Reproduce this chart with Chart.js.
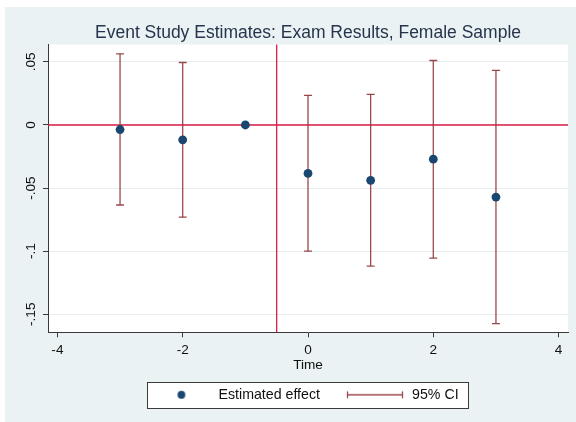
<!DOCTYPE html>
<html>
<head>
<meta charset="utf-8">
<script src="https://cdn.jsdelivr.net/npm/chart.js@4.4.1/dist/chart.umd.min.js"></script>
<style>
  html, body { margin: 0; padding: 0; background: #ffffff; }
  #frame { position: absolute; left: 5px; top: 7px; width: 571px; height: 415px; background: #eaf2f3; }
  canvas { display: block; }
</style>
</head>
<body>
<div id="frame"><canvas id="chart" width="571" height="415"></canvas></div>
<script>
// Event-study coefficients by period relative to treatment (t = -1 is the omitted reference period)
const periods   = [-3, -2, -1, 0, 1, 2, 3];
const estimates = [-0.0036, -0.0118, 0, -0.0384, -0.0439, -0.0271, -0.0571];
const ciLower   = [-0.0634, -0.0731, null, -0.1000, -0.1118, -0.1055, -0.1574];
const ciUpper   = [ 0.0564,  0.0495, null,  0.0235,  0.0243,  0.0511,  0.0432];

// Axis ticks and reference lines
const xTickValues = [-4, -2, 0, 2, 4];
const yTickValues = [-0.15, -0.1, -0.05, 0, 0.05];
const xRange = [-4.15, 4.15];
const yRange = [-0.1643, 0.0637];
const eventLineX = [-0.5];
const zeroLineY = [0];

const titleText = 'Event Study Estimates: Exam Results, Female Sample';
const xAxisTitle = 'Time';
const seriesNames = ['Estimated effect', '95% CI'];

const FONT = "'Liberation Sans', Arial, Helvetica, sans-serif";
const NAVY = '#1a476f';
const MAROON = 'rgba(144, 53, 59, 0.9)';
const REDLINE = '#dc1d48';
const TEXT = '#111111';

// Stata-style tick labels: .05, 0, -.05 ...
function stataNum(v) {
  if (Math.abs(v) < 1e-12) return '0';
  return String(+v.toFixed(3)).replace(/^(-?)0\./, '$1.');
}

// Confidence-interval segments, separated by gaps so each period is its own capped line
const ciPoints = [];
periods.forEach((t, i) => {
  if (ciLower[i] === null || ciUpper[i] === null) return;
  ciPoints.push({ x: t, y: ciLower[i] });
  ciPoints.push({ x: t, y: ciUpper[i] });
  ciPoints.push({ x: t, y: null });
});
const estimatePoints = periods.map((t, i) => ({ x: t, y: estimates[i] }));

// Legend keys
function makeKey(draw) {
  const c = document.createElement('canvas');
  c.width = 60; c.height = 12;
  draw(c.getContext('2d'));
  return c;
}
const dotKey = makeKey(g => {
  g.fillStyle = NAVY;
  g.beginPath(); g.arc(30, 6, 3.9, 0, Math.PI * 2); g.fill();
});
const capKey = makeKey(g => {
  g.strokeStyle = MAROON; g.lineWidth = 1.3;
  g.beginPath();
  g.moveTo(2.5, 6); g.lineTo(57.5, 6);
  g.moveTo(2.5, 2.5); g.lineTo(2.5, 9.5);
  g.moveTo(57.5, 2.5); g.lineTo(57.5, 9.5);
  g.stroke();
});
const legendKeys = [dotKey, capKey];

const decorations = {
  id: 'decorations',
  afterLayout(chart) {
    // nudge the legend row slightly left of the plot centre
    if (chart.legend) { chart.legend.left -= 3; chart.legend.right -= 3; }
  },
  beforeDraw(chart) {
    const { ctx, chartArea: a } = chart;
    ctx.save();
    ctx.fillStyle = '#ffffff';
    ctx.fillRect(a.left, a.top, a.right - a.left, a.bottom - a.top);
    const hb = chart.legend && chart.legend.legendHitBoxes;
    if (hb && hb.length) {
      const last = hb[hb.length - 1];
      const l = Math.round(hb[0].left - 4), r = Math.round(last.left + last.width + 9);
      const t = Math.round(hb[0].top - 6), b = Math.round(hb[0].top + hb[0].height + 6);
      ctx.fillRect(l, t, r - l, b - t);
      ctx.strokeStyle = '#3a3a3a';
      ctx.lineWidth = 1;
      ctx.strokeRect(l + 0.5, t + 0.5, r - l, b - t);
    }
    ctx.restore();
  },
  beforeDatasetsDraw(chart) {
    const { ctx, chartArea: a, scales } = chart;
    ctx.save();
    ctx.strokeStyle = REDLINE;
    ctx.lineWidth = 1.3;
    ctx.beginPath();
    zeroLineY.forEach(v => {
      const y = scales.y.getPixelForValue(v);
      ctx.moveTo(a.left, y); ctx.lineTo(a.right, y);
    });
    eventLineX.forEach(v => {
      const x = scales.x.getPixelForValue(v);
      ctx.moveTo(x, a.top); ctx.lineTo(x, a.bottom);
    });
    ctx.stroke();
    ctx.restore();
  }
};

new Chart(document.getElementById('chart'), {
  type: 'scatter',
  data: {
    datasets: [
      {
        label: seriesNames[0],
        data: estimatePoints,
        backgroundColor: NAVY,
        borderColor: NAVY,
        borderWidth: 0,
        pointRadius: 4.4,
        pointHoverRadius: 4.4
      },
      {
        label: seriesNames[1],
        data: ciPoints,
        showLine: true,
        spanGaps: false,
        borderColor: MAROON,
        borderWidth: 1.3,
        pointStyle: 'line',
        pointRadius: 4,
        pointHoverRadius: 4,
        pointBorderColor: MAROON,
        pointBorderWidth: 1.3
      }
    ]
  },
  options: {
    responsive: false,
    animation: false,
    devicePixelRatio: 1,
    layout: { padding: { top: 0, right: 8, bottom: 10.1, left: 0 } },
    plugins: {
      tooltip: { enabled: false },
      title: {
        display: true,
        text: titleText,
        fullSize: false,
        color: '#26344d',
        font: { family: FONT, size: 17.5, weight: 'normal' },
        padding: { top: 16, bottom: 0.6 }
      },
      legend: {
        position: 'bottom',
        fullSize: false,
        onClick: null,
        labels: {
          usePointStyle: true,
          pointStyleWidth: 60,
          padding: 25,
          color: TEXT,
          font: { family: FONT, size: 14.2 },
          generateLabels(chart) {
            return chart.data.datasets.map((ds, i) => ({
              text: ds.label,
              datasetIndex: i,
              pointStyle: legendKeys[i],
              fillStyle: 'transparent',
              strokeStyle: 'transparent',
              lineWidth: 0,
              fontColor: TEXT,
              hidden: false
            }));
          }
        }
      }
    },
    scales: {
      x: {
        type: 'linear',
        min: xRange[0],
        max: xRange[1],
        afterBuildTicks(s) { s.ticks = xTickValues.map(v => ({ value: v })); },
        afterFit(s) { s.height = 30.4; },
        border: { display: true, color: '#3a3a3a', width: 1 },
        grid: { drawOnChartArea: false, drawTicks: true, tickLength: 5, tickColor: '#3a3a3a', tickWidth: 1 },
        ticks: {
          padding: 5.2,
          color: TEXT,
          font: { family: FONT, size: 13.6 },
          maxRotation: 0,
          callback: v => stataNum(v)
        },
        title: {
          display: true,
          text: xAxisTitle,
          color: TEXT,
          font: { family: FONT, size: 13.6 },
          padding: { top: 0, bottom: -11.2 }
        }
      },
      y: {
        type: 'linear',
        min: yRange[0],
        max: yRange[1],
        afterBuildTicks(s) { s.ticks = yTickValues.map(v => ({ value: v })); },
        afterFit(s) { s.width = 43; },
        border: { display: true, color: '#3a3a3a', width: 1 },
        grid: { drawOnChartArea: true, color: '#e6eef0', lineWidth: 1, drawTicks: true, tickLength: 5, tickColor: '#3a3a3a', tickWidth: 1 },
        ticks: {
          padding: 0,
          minRotation: 90,
          maxRotation: 90,
          crossAlign: 'center',
          color: TEXT,
          font: { family: FONT, size: 13.6 },
          callback: v => stataNum(v)
        }
      }
    }
  },
  plugins: [decorations]
});
</script>
</body>
</html>
